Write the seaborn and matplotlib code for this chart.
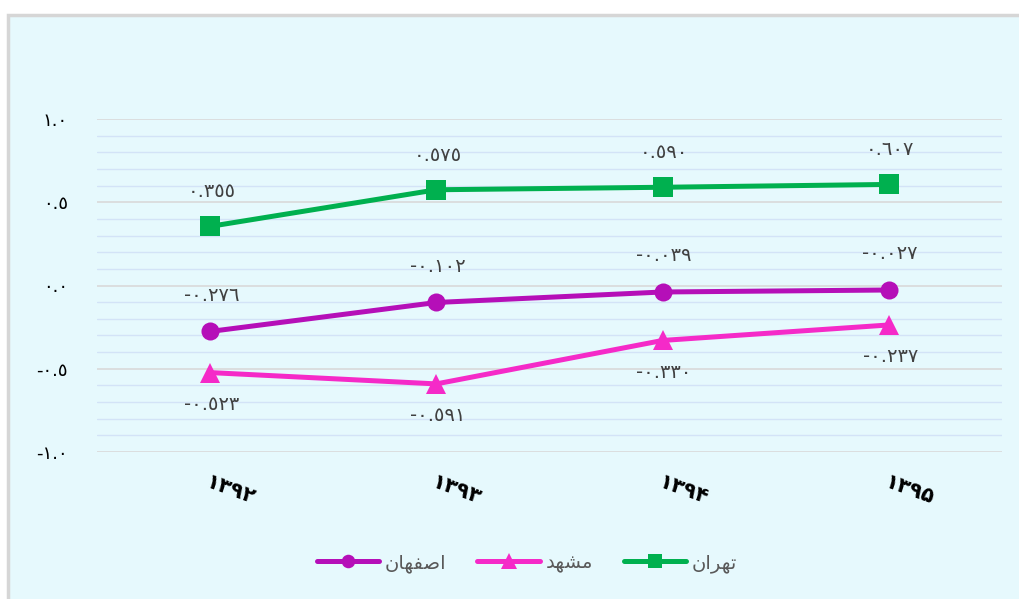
import matplotlib
matplotlib.use("Agg")
import matplotlib.pyplot as plt
import matplotlib.transforms as mtransforms
from matplotlib.patches import Rectangle
from matplotlib.ticker import MultipleLocator
import pandas as pd
import seaborn as sns

# -----------------------------
# Data
# -----------------------------
years = [1392, 1393, 1394, 1395]
year_labels = ["۱۳۹۲", "۱۳۹۳", "۱۳۹۴", "۱۳۹۵"]

cities = ["اصفهان", "مشهد", "تهران"]
isfahan = [-0.276, -0.102, -0.039, -0.027]
mashhad = [-0.523, -0.591, -0.330, -0.237]
tehran = [0.355, 0.575, 0.590, 0.607]

isfahan_text = ["-٠.٢٧٦", "-٠.١٠٢", "-٠.٠٣٩", "-٠.٠٢٧"]
mashhad_text = ["-٠.٥٢٣", "-٠.٥٩١", "-٠.٣٣٠", "-٠.٢٣٧"]
tehran_text = ["٠.٣٥٥", "٠.٥٧٥", "٠.٥٩٠", "٠.٦٠٧"]

y_ticks = [-1.0, -0.5, 0.0, 0.5, 1.0]
y_tick_labels = ["-١.٠", "-٠.٥", "٠.٠", "٠.٥", "١.٠"]

# matplotlib has no Arabic shaping, so legend names use presentation forms in visual order
display_names = {
    "اصفهان": "\uFEE5\uFE8E\uFEEC\uFED4\uFEBB\uFE8D",
    "مشهد": "\uFEAA\uFEEC\uFEB8\uFEE3",
    "تهران": "\uFEE5\uFE8D\uFEAE\uFEEC\uFE97",
}

df = pd.DataFrame({
    "year": years * 3,
    "value": isfahan + mashhad + tehran,
    "city": [c for c in cities for _ in years],
})

colors = {"اصفهان": "#b50fb8", "مشهد": "#f52ac8", "تهران": "#00b04f"}
markers = {"اصفهان": "o", "مشهد": "^", "تهران": "s"}
msizes = {"اصفهان": 13, "مشهد": 15, "تهران": 14}

sns.set_theme(style="white")
plt.rcParams["font.family"] = ["DejaVu Sans"]

fig = plt.figure(figsize=(10.19, 5.99), dpi=100)
fig.patch.set_facecolor("white")
fig.patches.append(Rectangle((8 / 1019, -0.02), 1.0, 1.02 - 15 / 599,
                             transform=fig.transFigure, facecolor="#e6f9fd",
                             edgecolor="#d6d6d6", linewidth=2.5, zorder=-5))

ax = fig.add_axes([97 / 1019, 1 - 452 / 599, 905 / 1019, 333 / 599])
ax.set_facecolor("none")

for city in cities:
    sub = df[df["city"] == city]
    sns.lineplot(data=sub, x="year", y="value", ax=ax, color=colors[city],
                 marker=markers[city], markersize=msizes[city], markeredgewidth=0,
                 linewidth=3.6, label=display_names[city], clip_on=False, zorder=3)

# data labels
for vals, texts, dy in [(tehran, tehran_text, 25), (isfahan, isfahan_text, 26),
                        (mashhad, mashhad_text, -23)]:
    for x, v, t in zip(years, vals, texts):
        ax.annotate(t, (x, v), xytext=(1, dy), textcoords="offset points",
                    ha="center", va="center", fontsize=14, color="#404040")

ax.set_xlim(1391.5, 1395.5)
ax.set_ylim(-1.0, 1.0)
ax.yaxis.set_major_locator(MultipleLocator(0.5))
ax.yaxis.set_minor_locator(MultipleLocator(0.1))
ax.grid(which="major", axis="y", color="#d9d9d9", linewidth=1.2)
ax.grid(which="minor", axis="y", color="#d3e3f7", linewidth=1.0)
ax.grid(False, axis="x")
ax.set_axisbelow(True)

ax.set_yticks(y_ticks, y_tick_labels, fontsize=13, color="black")
ax.tick_params(axis="y", which="both", length=0, pad=21)
ax.set_xticks(years, year_labels, fontsize=15, fontweight="bold", color="black",
              rotation=-20, rotation_mode="anchor", ha="center", va="center")
ax.tick_params(axis="x", length=0, pad=0)
offset = mtransforms.ScaledTranslation(20 / 100, -38 / 100, fig.dpi_scale_trans)
for lab in ax.get_xticklabels():
    lab.set_transform(lab.get_transform() + offset)

for s in ax.spines.values():
    s.set_visible(False)
ax.set_xlabel("")
ax.set_ylabel("")

leg = ax.legend(loc="center", bbox_to_anchor=(527 / 1019, 1 - 563 / 599),
                bbox_transform=fig.transFigure, ncol=3, frameon=False,
                fontsize=14, handlelength=3.2, columnspacing=1.6, handletextpad=0.3,
                markerscale=0.75)
for t in leg.get_texts():
    t.set_color("#595959")

plt.savefig("out.png", dpi=100)
